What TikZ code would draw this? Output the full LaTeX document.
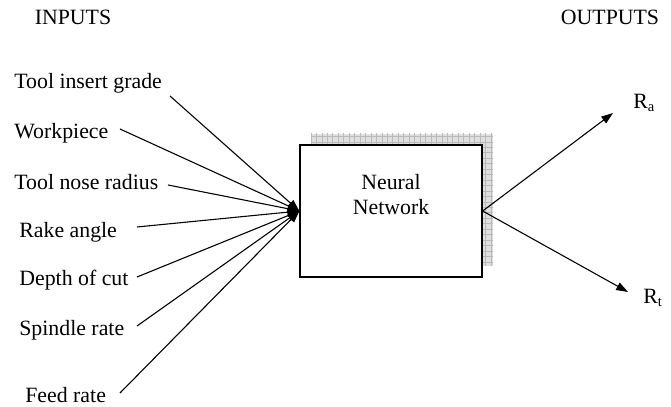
\documentclass[tikz,border=0pt]{standalone}
\usepackage{fontspec}
\setmainfont{Liberation Serif}
\usetikzlibrary{arrows.meta,positioning,calc}

\tikzset{
  lbl/.style={inner sep=0pt, font=\fontsize{12}{13.75}\selectfont},
  inarrow/.style={line width=0.6pt, -{Triangle[length=6.5pt,width=4.5pt]}},
  nnbox/.style={draw, line width=0.7pt, fill=white, minimum width=100.1pt, minimum height=72.6pt, inner sep=0pt}
}

\begin{document}
\begin{tikzpicture}[x=0.55pt,y=-0.55pt]
\useasboundingbox (0,0) rectangle (671,407);
% headings
\node[lbl] (inputs) at (73,17) {INPUTS};
\node[lbl] (outputs) at (610,17) {OUTPUTS};
% shadow with grid
\fill[gray!25] (311,134) rectangle (493,266);
\begin{scope}
\clip (311,134) rectangle (493,266);
\draw[gray!55, line width=0.3pt, step=3pt] (300,120) grid (500,270);
\end{scope}
% network box
\node[nnbox] (nn) at (391,211) {};
\node[lbl, align=center] (nntxt) at (391,195) {Neural\\Network};
% inputs
\foreach \name/\txt/\tx/\ty/\sx/\sy in {tig/Tool insert grade/14/83/170/96,
    wp/Workpiece/14/133/120/129, tnr/Tool nose radius/14/182/168/185,
    rka/Rake angle/19/232/137/227, doc/Depth of cut/19/280/137/277,
    sr/Spindle rate/19/330/137/326, fr/Feed rate/25/395/120/393}{
  \node[lbl, anchor=west] (\name) at (\tx,\ty) {\txt};
  \coordinate (\name-s) at (\sx,\sy);
  \draw[inarrow] (\name-s) -- (nn.west);
}
% outputs
\coordinate (ra-tip) at (613,113);
\coordinate (rt-tip) at (628,292);
\draw[inarrow] (nn.east) -- (ra-tip);
\draw[inarrow] (nn.east) -- (rt-tip);
\node[lbl, anchor=west] (ra) at (633,103) {R\textsubscript{a}};
\node[lbl, anchor=west] (rt) at (643,298) {R\textsubscript{t}};
\end{tikzpicture}
\end{document}
